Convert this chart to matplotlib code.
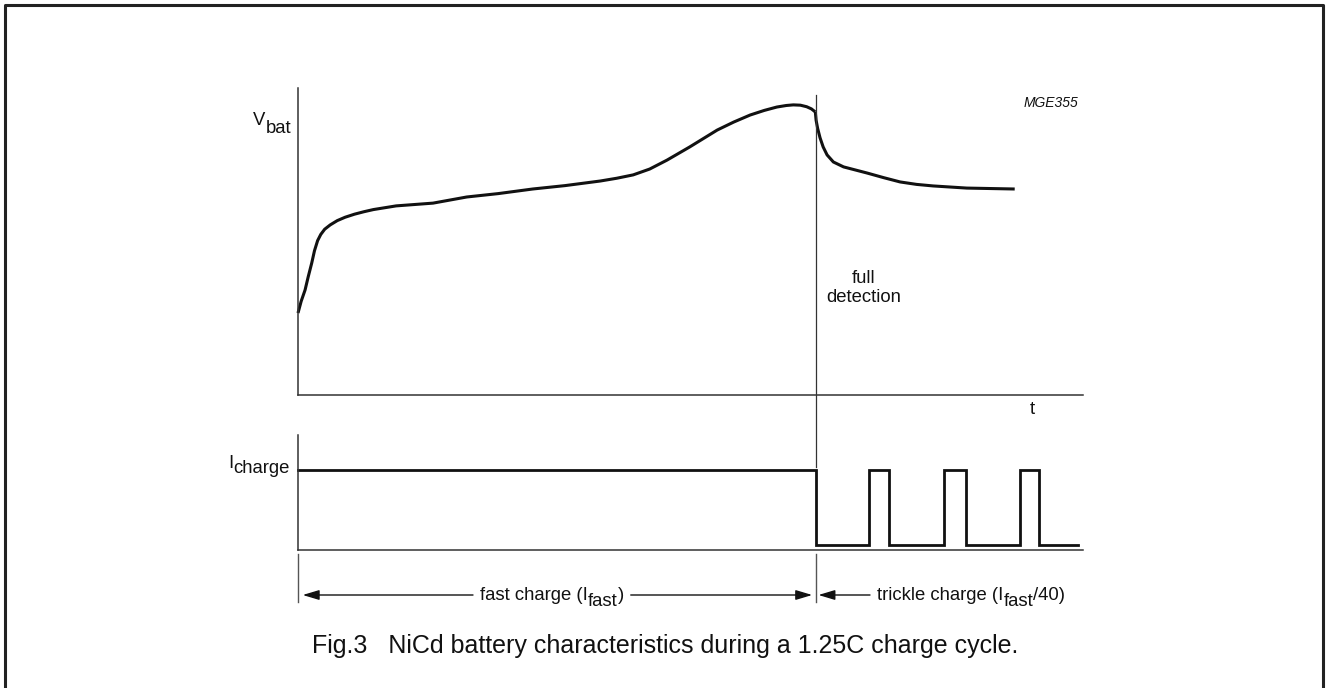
"""NiCd battery characteristics during a 1.25C charge cycle (Fig.3, MGE355)."""
import matplotlib
matplotlib.use("Agg")
import matplotlib.pyplot as plt
from matplotlib import transforms

plt.rcParams["font.family"] = ["Liberation Sans", "DejaVu Sans"]

W, H, DPI = 1326, 688, 100

# Battery voltage vs time (arbitrary units, t: 0..100, V: 0..100)
t_vbat = [0.0, 0.4, 0.9, 1.3, 1.75, 2.1, 2.5, 2.9, 3.4, 4.1, 5.0, 6.0, 7.2,
          8.4, 9.6, 12.5, 17.2, 21.5, 25.5, 29.9, 34.0, 38.5, 40.6, 42.7,
          44.8, 47.0, 49.9, 53.4, 55.5, 57.6, 59.4, 61.0, 62.2, 63.1, 64.0,
          64.8, 65.4, 65.9]
v_vbat = [26.7, 30.5, 34.2, 38.5, 43.0, 47.0, 50.3, 52.3, 54.0, 55.4, 56.8,
          57.9, 58.9, 59.7, 60.4, 61.6, 62.5, 64.5, 65.6, 67.1, 68.2, 69.7,
          70.6, 71.7, 73.6, 76.5, 80.8, 86.3, 88.9, 91.2, 92.7, 93.8, 94.3,
          94.5, 94.4, 93.9, 93.2, 92.2]
t_trickle = [65.9, 66.0, 66.2, 66.5, 66.9, 67.4, 68.2, 69.5, 71.0, 72.5,
             74.6, 76.7, 78.8, 80.9, 85.2, 91.3]
v_trickle = [92.2, 89.5, 86.8, 83.8, 80.8, 78.2, 75.9, 74.3, 73.3, 72.3,
             70.8, 69.4, 68.6, 68.1, 67.4, 67.1]

# Charge current vs time (step trace)
t_current = [0.0, 66.0, 66.0, 72.7, 72.7, 75.3, 75.3, 82.3, 82.3, 85.1,
             85.1, 92.0, 92.0, 94.4, 94.4, 99.4]
i_current = [1.0, 1.0, 0.06, 0.06, 1.0, 1.0, 0.06, 0.06, 1.0, 1.0, 0.06,
             0.06, 1.0, 1.0, 0.06, 0.06]

T_FULL = 66.0  # full detection instant

INK = "#111111"
AXC = "#333333"
FS = 13.3


def fx(px):
    return px / W


def fy(py):
    return 1 - py / H


fig = plt.figure(figsize=(W / DPI, H / DPI), dpi=DPI)

# outer frame (open at the bottom edge, as in the scan)
fig.add_artist(plt.Line2D([fx(5), fx(5), fx(1323), fx(1323)],
                          [fy(700), fy(5), fy(5), fy(700)],
                          transform=fig.transFigure, color="#222222", lw=2.2))

ax_v = fig.add_axes([fx(298), fy(395), fx(1083) - fx(298), fy(88) - fy(395)])
ax_i = fig.add_axes([fx(298), fy(550), fx(1083) - fx(298), fy(435) - fy(550)])

for ax in (ax_v, ax_i):
    ax.set_xlim(0, 100)
    ax.set_xticks([])
    ax.set_yticks([])
    for side in ("top", "right"):
        ax.spines[side].set_visible(False)
    for side in ("left", "bottom"):
        ax.spines[side].set_color(AXC)
        ax.spines[side].set_linewidth(1.1)
    ax.patch.set_alpha(0)

ax_v.set_ylim(0, 100)
ax_i.set_ylim(0, 1.44)

ax_v.plot(t_vbat, v_vbat, color=INK, lw=2.2, solid_joinstyle="round",
          solid_capstyle="butt", clip_on=False)
ax_v.plot(t_trickle, v_trickle, color=INK, lw=2.2, solid_joinstyle="round",
          solid_capstyle="butt", clip_on=False)
ax_i.plot(t_current, i_current, color=INK, lw=2.0, solid_joinstyle="miter",
          clip_on=False)

# x in data (time), y in figure fraction
blend = transforms.blended_transform_factory(ax_v.transData, fig.transFigure)

# full-detection divider and the phase ticks below the current axis
fig.add_artist(plt.Line2D([T_FULL, T_FULL], [fy(95), fy(467)],
                          transform=blend, color=AXC, lw=0.9))
for tt in (0.0, T_FULL):
    fig.add_artist(plt.Line2D([tt, tt], [fy(554), fy(602)],
                              transform=blend, color="#555555", lw=1.0))


def rich(x, y, parts, transform, ha="left"):
    """Draw text pieces side by side; parts = [(text, rise_px)]."""
    pts = 72 / DPI
    arts = []
    if ha == "left":
        s, dy = parts[0]
        prev = fig.text(x, y, s, transform=transform, fontsize=FS,
                        ha="left", va="baseline", color=INK)
        arts.append(prev)
        base_dy = dy
        for s, dy in parts[1:]:
            prev = fig.add_artist(plt.Annotation(
                s, xy=(1, 0), xycoords=prev, xytext=(0, (dy - base_dy) * pts),
                textcoords="offset points", ha="left", va="bottom",
                fontsize=FS, color=INK))
            base_dy = dy
            arts.append(prev)
    else:
        s, dy = parts[-1]
        prev = fig.text(x, y, s, transform=transform, fontsize=FS,
                        ha="right", va="baseline", color=INK)
        arts.append(prev)
        base_dy = dy
        for s, dy in reversed(parts[:-1]):
            prev = fig.add_artist(plt.Annotation(
                s, xy=(0, 0), xycoords=prev, xytext=(0, (dy - base_dy) * pts),
                textcoords="offset points", ha="right", va="bottom",
                fontsize=FS, color=INK))
            base_dy = dy
            arts.append(prev)
    return arts


rich(fx(291), fy(133), [("V", 8), ("bat", 0)], fig.transFigure, ha="right")
rich(fx(290), fy(473), [("I", 5), ("charge", 0)], fig.transFigure, ha="right")

fig.text(93.6, fy(410), "t", transform=blend, fontsize=FS, ha="center",
         va="center", color=INK)
fig.text(fx(1078), fy(107), "MGE355", fontsize=10, style="italic",
         ha="right", va="baseline", color=INK)
fig.text(72.0, fy(288), "full\ndetection", transform=blend, fontsize=FS,
         ha="center", va="center", multialignment="center", linespacing=1.1,
         color=INK)

fast = rich(fx(480), fy(600), [("fast charge (I", 0), ("fast", -6), (")", 0)],
            fig.transFigure)
trickle = rich(fx(877), fy(600),
               [("trickle charge (I", 0), ("fast", -6), ("/40)", 0)],
               fig.transFigure)

fig.text(fx(665), fy(653), "Fig.3   NiCd battery characteristics during a "
         "1.25C charge cycle.", fontsize=18, ha="center", va="baseline",
         color=INK)

# dimension arrows, broken around the labels
fig.canvas.draw()
inv = blend.inverted()
r = fig.canvas.get_renderer()
f_left = inv.transform((fast[0].get_window_extent(r).x0, 0))[0]
f_right = inv.transform((fast[-1].get_window_extent(r).x1, 0))[0]
t_left = inv.transform((trickle[0].get_window_extent(r).x0, 0))[0]
gap = 7 / 7.85
y_arr = fy(595)
aprops = dict(arrowstyle="-|>,head_length=1.0,head_width=0.3", color=INK,
              lw=1.0, shrinkA=0, shrinkB=0)
for start, tip in ((f_left - gap, 0.6), (f_right + gap, T_FULL - 0.5),
                   (t_left - gap, T_FULL + 0.3)):
    fig.add_artist(plt.Annotation("", xy=(tip, y_arr), xycoords=blend,
                                  xytext=(start, y_arr), textcoords=blend,
                                  arrowprops=aprops))

fig.savefig("out.png", dpi=DPI)
